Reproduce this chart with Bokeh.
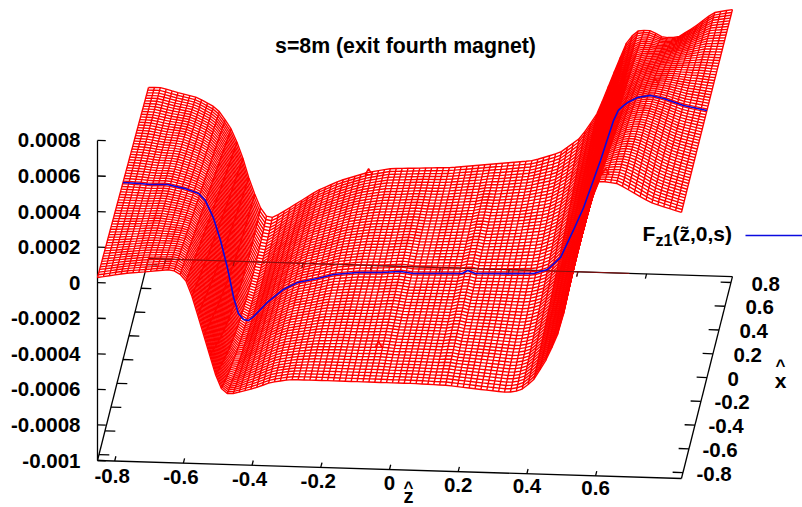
import numpy as np
from bokeh.plotting import figure
from bokeh.embed import file_html
from bokeh.resources import INLINE
from bokeh.core.properties import value

# --- values (F in units of 1e-4) ---
z_front = [-.85,-.774,-.704,-.637,-.614,-.588,-.571,-.536,-.506,-.483,-.454,-.396,-.346,-.288,-.192,-.026,.07,.169,.265,.344,.381,.419,.46,.498,.536,.571,.606,.664,.76,.85]
F_front = [.29,.56,.71,.87,.71,.17,-.83,-3.07,-5.02,-6.01,-6.0,-5.68,-5.31,-5.11,-5.11,-5.12,-5.12,-5.17,-5.34,-5.46,-5.33,-4.74,-3.43,-1.72,1.68,4.34,6.6,6.48,5.47,4.96]
z_mid = [-.85,-.80,-.77,-.72,-.67,-.63,-.61,-.587,-.566,-.546,-.528,-.514,-.499,-.485,-.47,-.43,-.383,-.342,-.284,-.237,-.167,-.10,-.042,-.004,.095,.138,.153,.176,.287,.345,.386,.424,.461,.491,.54,.578,.592,.607,.619,.648,.686,.724,.782,.85]
F_mid = [-.04,-.07,-.11,-.08,-.28,-.53,-.92,-1.86,-3.14,-4.65,-6.32,-7.21,-7.54,-7.59,-7.36,-6.54,-5.78,-5.37,-5.11,-4.85,-4.70,-4.66,-4.57,-4.66,-4.60,-4.57,-4.40,-4.55,-4.49,-4.45,-4.20,-3.50,-1.96,-.65,2.02,4.29,4.87,5.15,5.33,5.63,5.77,5.62,5.26,5.02]
z_back = [-.85,-.815,-.766,-.707,-.65,-.611,-.582,-.553,-.524,-.504,-.486,-.437,-.358,-.291,-.212,-.145,.029,.175,.271,.349,.408,.457,.504,.544,.574,.611,.649,.69,.737,.795,.85]
F_back = [-.38,-.36,-.61,-.86,-1.45,-2.49,-3.77,-5.61,-6.99,-7.49,-7.47,-6.88,-5.88,-5.28,-4.78,-4.52,-4.36,-4.04,-3.82,-3.32,-2.45,-1.06,1.21,3.09,3.67,3.70,3.32,3.35,3.94,4.81,5.02]
spike_z = [-.135,-.106,.555,.70]
spike_F = [.94,-8.76,1.36,6.5]
f_ticks = [-.001,-.0008,-.0006,-.0004,-.0002,0,.0002,.0004,.0006,.0008]
f_labels = ["-0.001","-0.0008","-0.0006","-0.0004","-0.0002","0","0.0002","0.0004","0.0006","0.0008"]
z_ticks = [-.8,-.6,-.4,-.2,0,.2,.4,.6]
z_labels = ["-0.8","-0.6","-0.4","-0.2","0","0.2","0.4","0.6"]
x_ticks = [-.8,-.6,-.4,-.2,0,.2,.4,.6,.8]
x_labels = ["-0.8","-0.6","-0.4","-0.2","0","0.2","0.4","0.6","0.8"]
LIM = .85

def sx(z, x):
    return 97 + 343.5*(np.asarray(z)+LIM) + 30*(np.asarray(x)+LIM)
def sy(z, x, f):
    return 460 + 10.6*(np.asarray(z)+LIM) - 118.8*(np.asarray(x)+LIM) - 177800*(np.asarray(f)+.001)

p = figure(width=802, height=507, x_range=(0,802), y_range=(507,0), output_backend="svg",
           toolbar_location=None, min_border=0, outline_line_color=None, x_axis_type=None, y_axis_type=None)
p.grid.visible = False
FONT = value("Liberation Sans")
INK = "#000000"
DARK = "#8a1010"

def seg(z0,x0,f0,z1,x1,f1, color=INK, w=1.3):
    p.line([sx(z0,x0),sx(z1,x1)],[sy(z0,x0,f0),sy(z1,x1,f1)],line_color=color,line_width=w)

# base frame and axis
fb = -.001
seg(-LIM,-LIM,fb,LIM,-LIM,fb); seg(LIM,-LIM,fb,LIM,LIM,fb)
seg(LIM,LIM,fb,-LIM,LIM,fb); seg(-LIM,LIM,fb,-LIM,-LIM,fb)
seg(-LIM,-LIM,fb,-LIM,-LIM,.0008)
for f in f_ticks:
    seg(-LIM,-LIM,f,-LIM+.024,-LIM,f)
for z in z_ticks:
    seg(z,-LIM,fb,z,-LIM+.04,fb); seg(z,LIM,fb,z,LIM-.04,fb)
for x in x_ticks:
    seg(-LIM,x,fb,-LIM+.03,x,fb); seg(LIM,x,fb,LIM-.03,x,fb)

# surface: dense mesh between the three read profiles
def profile(zs, fs, grid):
    fine = np.linspace(-LIM, LIM, 681)
    v = np.interp(fine, zs, fs)
    k = np.array([1,2,3,4,3,2,1.])/16
    pad = np.pad(v, 3, mode="edge")
    return np.interp(grid, fine, np.convolve(pad, k, mode="valid"))*1e-4

zg = np.linspace(-LIM,LIM,100)
xg = np.linspace(-LIM,LIM,72)
Pf = profile(z_front,F_front,zg)
Pm = profile(z_mid,F_mid,zg)
Pb = profile(z_back,F_back,zg)
U = xg/LIM
Fg = np.array([u*(u-1)/2*Pf + (1-u*u)*Pm + u*(u+1)/2*Pb for u in U])
Z,X = np.meshgrid(zg,xg)
SX = sx(Z,X); SY = sy(Z,X,Fg)
xs = [list(r) for r in SX] + [list(c) for c in SX.T]
ys = [list(r) for r in SY] + [list(c) for c in SY.T]
p.multi_line(xs,ys,line_color="#ff0000",line_width=1.4)

# small glitches on the surface
sz = np.array(spike_z); sf = np.array(spike_F)*1e-4
p.scatter(sx(sz,0),sy(sz,0,sf),marker="triangle",size=7,fill_color=None,line_color="#ff0000",line_width=1.4)

# back axis seen through the mesh
seg(-LIM,LIM,fb,.55,LIM,fb,color=DARK,w=1)
for z in z_ticks[:-1]:
    seg(z,LIM,fb,z,LIM-.04,fb,color=DARK,w=1)

# centre profile
zm = np.array(z_mid); fm = np.array(F_mid)*1e-4
p.line(sx(zm,0),sy(zm,0,fm),line_color="#0a0ae0",line_width=1.6)

def txt(xv,yv,t,size,align="left"):
    p.text([xv],[yv],text=[t],text_font=FONT,text_font_style="bold",text_font_size=size,
           text_align=align,text_baseline="middle",text_color="#000000")

for f,l in zip(f_ticks,f_labels):
    txt(80, float(sy(-LIM,-LIM,f)), l, "20.5px", "right")
for z,l in zip(z_ticks,z_labels):
    txt(float(sx(z,-LIM))-(2.5 if z<0 else 0), float(sy(z,-LIM,fb))+14.5-1.5*(z+.8), l, "20.5px", "center")
for x,l in zip(x_ticks,x_labels):
    off = 13.5 if x < 0 else 20.5
    txt(float(sx(LIM,x))+off, float(sy(LIM,x,fb))+1, l, "20.5px", "left")

txt(405,45,"s=8m (exit fourth magnet)","21.3px","center")
txt(408,487,"^","17px","center"); txt(408,495,"z","20px","center")
txt(780,365,"^","17px","center"); txt(780,380,"x","21px","center")
txt(642,233,"F","21px"); txt(655,240,"z1","16px"); txt(672,233,"(z\u0303,0,s)","21px")
p.line([745,802],[235,235],line_color="#0a0ae0",line_width=1.3)

open("out.html","w").write(file_html(p,INLINE))
